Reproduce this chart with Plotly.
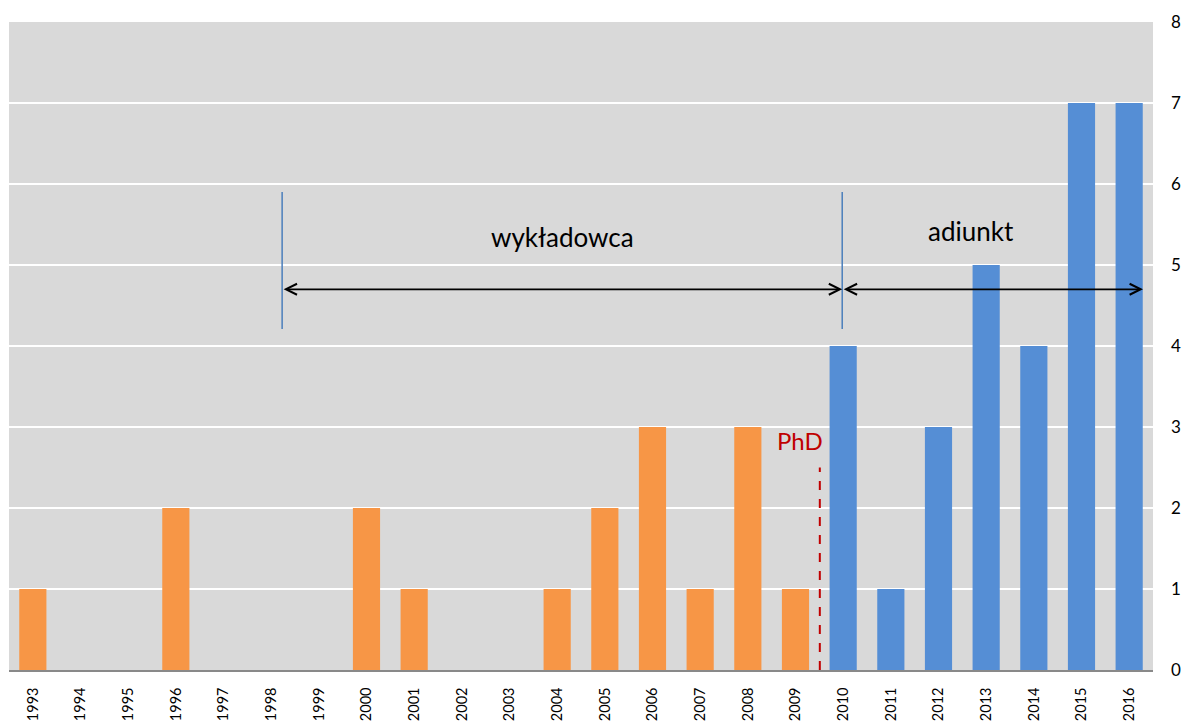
import plotly.graph_objects as go

years_before = [1993, 1994, 1995, 1996, 1997, 1998, 1999, 2000, 2001, 2002, 2003,
                2004, 2005, 2006, 2007, 2008, 2009]
values_before = [1, 0, 0, 2, 0, 0, 0, 2, 1, 0, 0, 1, 2, 3, 1, 3, 1]
years_after = [2010, 2011, 2012, 2013, 2014, 2015, 2016]
values_after = [4, 1, 3, 5, 4, 7, 7]
y_ticks = [0, 1, 2, 3, 4, 5, 6, 7, 8]

FONT = "Lato"
ORANGE = "#F79646"
BLUE = "#558ED5"

fig = go.Figure()
fig.add_trace(go.Bar(x=years_before, y=values_before, marker_color=ORANGE,
                     marker_line_width=0, showlegend=False))
fig.add_trace(go.Bar(x=years_after, y=values_after, marker_color=BLUE,
                     marker_line_width=0, showlegend=False))

all_years = years_before + years_after

fig.update_layout(
    width=1183, height=722,
    margin=dict(l=9, r=30, t=22, b=52),
    paper_bgcolor="white",
    plot_bgcolor="#D9D9D9",
    barmode="overlay",
    bargap=0.43,
    font=dict(family=FONT, color="black"),
    xaxis=dict(
        range=[1992.5, 2016.5],
        tickmode="array", tickvals=all_years, ticktext=[str(y) for y in all_years],
        tickangle=-90, tickfont=dict(size=14.5, family=FONT),
        showgrid=False, zeroline=False,
        showline=True, linecolor="#898989", linewidth=1.5,
        ticks="", automargin=False, ticklabelstandoff=10,
    ),
    yaxis=dict(
        range=[0, 8], side="right",
        tickmode="array", tickvals=y_ticks,
        tickfont=dict(size=17, family=FONT),
        showgrid=True, gridcolor="white", gridwidth=1.5,
        zeroline=False, showline=False, ticks="",
        automargin=False, ticklabelstandoff=17,
    ),
)

# vertical blue markers
for xv in [1998.23, 2009.98]:
    fig.add_shape(type="line", xref="x", yref="y", x0=xv, x1=xv, y0=4.21, y1=5.9,
                  line=dict(color="#4A7EBB", width=1.5))

# red dashed PhD line
fig.add_shape(type="line", xref="x", yref="y", x0=2009.51, x1=2009.51, y0=0, y1=2.5,
              line=dict(color="#C00000", width=2, dash="dash"))

# double-headed arrows
for x_start, x_end in [(1998.23, 2009.98), (2009.98, 2016.29)]:
    fig.add_annotation(x=x_end, y=4.7, ax=x_start, ay=4.7, xref="x", yref="y",
                       axref="x", ayref="y", showarrow=True, text="",
                       arrowhead=5, startarrowhead=5, arrowside="end+start",
                       arrowsize=1.2, startarrowsize=1.2, arrowwidth=1.8,
                       arrowcolor="black", standoff=0, startstandoff=0)

fig.add_annotation(x=2004.12, y=5.35, xref="x", yref="y", text="wykładowca",
                   showarrow=False, font=dict(size=26, family=FONT, color="black"))
fig.add_annotation(x=2012.69, y=5.42, xref="x", yref="y", text="adiunkt",
                   showarrow=False, font=dict(size=26, family=FONT, color="black"))
fig.add_annotation(x=2009.09, y=2.83, xref="x", yref="y", text="PhD",
                   showarrow=False, font=dict(size=24, family=FONT, color="#C00000"))

fig.write_html("out.html",
               config={"displayModeBar": False},
               post_script="document.body.style.margin='0';document.body.style.overflow='hidden';")
